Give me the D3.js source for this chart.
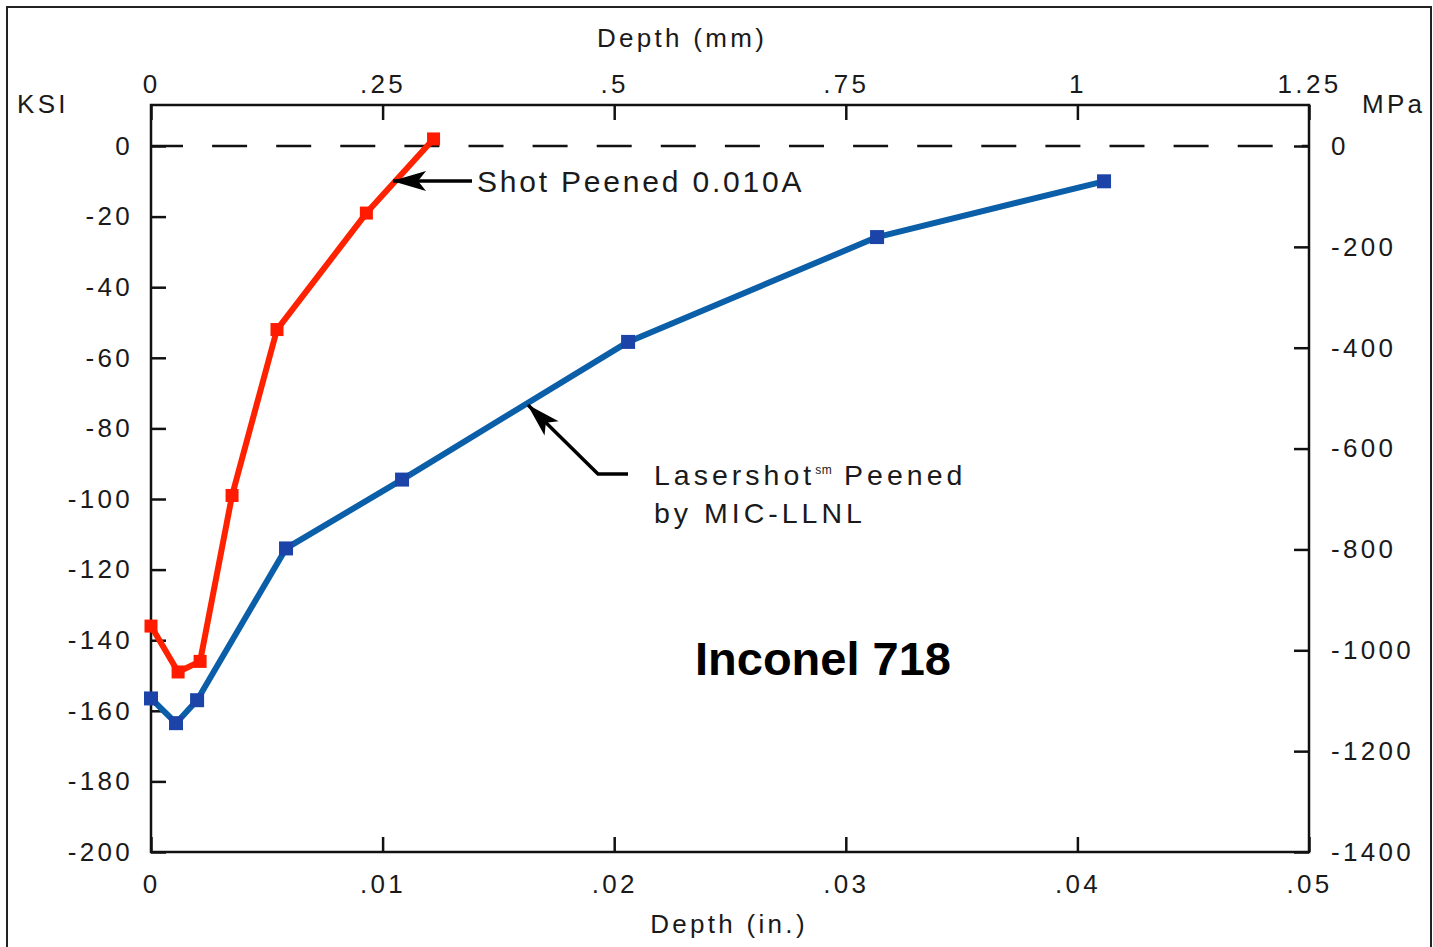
<!DOCTYPE html>
<html>
<head>
<meta charset="utf-8">
<script src="https://cdn.jsdelivr.net/npm/d3@7"></script>
<style>
  body { margin: 0; background: #fff; }
  svg text { font-family: "Liberation Sans", Arial, Helvetica, sans-serif; fill: #1a1a1a; }
  .lbl { font-size: 26px; letter-spacing: 3.3px; }
</style>
</head>
<body>
<div id="chart"></div>
<script>
// Data: depth in inches, residual stress in KSI
var shotDepth = [0, 0.00117, 0.00212, 0.0035, 0.00544, 0.0093, 0.0122];
var shotKsi   = [-136, -149, -146, -99, -52, -19, 2];
var laserDepth = [0, 0.00108, 0.00199, 0.00583, 0.01084, 0.0206, 0.03135, 0.04115];
var laserKsi   = [-156.5, -163.5, -157, -114, -94.5, -55.5, -25.8, -10];

// Tick values
var ksiTicks = [0, -20, -40, -60, -80, -100, -120, -140, -160, -180, -200];
var mpaTicks = [0, -200, -400, -600, -800, -1000, -1200, -1400];
var inTicks = [0, 0.01, 0.02, 0.03, 0.04, 0.05];
var mmTicks = [0, 0.25, 0.5, 0.75, 1, 1.25];

// Annotation arrow tips (in, ksi)
var shotTip = [0.01045, -9.9];
var laserTip = [0.01628, -73.4];

var W = 1433, H = 947;
var PLOT = { left: 151, right: 1309, top: 105, bottom: 852 };
var TICK = 15;

var svg = d3.select("#chart").append("svg")
  .attr("width", W).attr("height", H);

var x = d3.scaleLinear().domain([0, 0.05]).range([PLOT.left, PLOT.right]);
var xmm = d3.scaleLinear().domain([0, 1.25]).range([PLOT.left, PLOT.right]);
var y = d3.scaleLinear().domain([-200, 0]).range([PLOT.bottom, 146]);
var ympa = d3.scaleLinear().domain([-1400, 0]).range([PLOT.bottom, 146]);

function fmt(d) { return d === 0 ? "0" : String(d).replace(/^(-?)0\./, "$1."); }

// outer frame
svg.append("rect")
  .attr("x", 7).attr("y", 7).attr("width", 1424).attr("height", 980)
  .attr("fill", "none").attr("stroke", "#222").attr("stroke-width", 2);

svg.append("defs").append("marker")
  .attr("id", "head")
  .attr("markerUnits", "userSpaceOnUse")
  .attr("viewBox", "-36 -12 38 24")
  .attr("refX", 0).attr("refY", 0)
  .attr("markerWidth", 38).attr("markerHeight", 24)
  .attr("orient", "auto")
  .append("path")
  .attr("d", "M1,0 L-33,-10 L-25,0 L-33,10 Z")
  .attr("fill", "#000");

// axes
function styleAxis(g) {
  g.select(".domain").remove();
  g.selectAll(".tick line").attr("stroke", "#111").attr("stroke-width", 2.5);
  g.selectAll(".tick text").attr("class", "lbl").attr("fill", "#1a1a1a")
    .attr("font-family", null).attr("font-size", null);
}

svg.append("g").attr("transform", "translate(" + PLOT.left + ",0)")
  .call(d3.axisLeft(y).tickValues(ksiTicks).tickFormat(fmt).tickSizeInner(-TICK).tickSizeOuter(0).tickPadding(18))
  .call(styleAxis);

svg.append("g").attr("transform", "translate(" + PLOT.right + ",0)")
  .call(d3.axisRight(ympa).tickValues(mpaTicks).tickFormat(fmt).tickSizeInner(-TICK).tickSizeOuter(0).tickPadding(22))
  .call(styleAxis);

svg.append("g").attr("transform", "translate(0," + PLOT.top + ")")
  .call(d3.axisTop(xmm).tickValues(mmTicks).tickFormat(fmt).tickSizeInner(-TICK).tickSizeOuter(0).tickPadding(12))
  .call(styleAxis);

svg.append("g").attr("transform", "translate(0," + PLOT.bottom + ")")
  .call(d3.axisBottom(x).tickValues(inTicks).tickFormat(fmt).tickSizeInner(-TICK).tickSizeOuter(0).tickPadding(23))
  .call(styleAxis);

// plot box
svg.append("rect")
  .attr("x", PLOT.left).attr("y", PLOT.top)
  .attr("width", PLOT.right - PLOT.left).attr("height", PLOT.bottom - PLOT.top)
  .attr("fill", "none").attr("stroke", "#111").attr("stroke-width", 2.5);

// zero line
svg.append("line")
  .attr("x1", PLOT.left).attr("x2", PLOT.right)
  .attr("y1", y(0)).attr("y2", y(0))
  .attr("stroke", "#111").attr("stroke-width", 2.5)
  .attr("stroke-dasharray", "35,29.1").attr("stroke-dashoffset", 3);

// axis titles
svg.append("text").attr("class", "lbl").attr("x", 682).attr("y", 47)
  .attr("text-anchor", "middle").text("Depth (mm)");
svg.append("text").attr("class", "lbl").attr("x", 729).attr("y", 933)
  .attr("text-anchor", "middle").text("Depth (in.)");
svg.append("text").attr("class", "lbl").attr("x", 17).attr("y", 113).text("KSI");
svg.append("text").attr("class", "lbl").attr("x", 1362).attr("y", 113).text("MPa");

// series
var line = d3.line().x(function(d) { return x(d[0]); }).y(function(d) { return y(d[1]); });

function drawSeries(depth, ksi, lineColor, markColor, size) {
  var pts = depth.map(function(d, i) { return [d, ksi[i]]; });
  svg.append("path").datum(pts)
    .attr("d", line)
    .attr("fill", "none").attr("stroke", lineColor).attr("stroke-width", 6)
    .attr("stroke-linejoin", "round");
  svg.append("g").selectAll("rect").data(pts).enter().append("rect")
    .attr("x", function(d) { return x(d[0]) - size / 2; })
    .attr("y", function(d) { return y(d[1]) - size / 2; })
    .attr("width", size).attr("height", size)
    .attr("fill", markColor);
}

drawSeries(shotDepth, shotKsi, "#ff2200", "#ff1a00", 13);
drawSeries(laserDepth, laserKsi, "#0b5ea8", "#1c44a8", 14);

// annotations
svg.append("line")
  .attr("x1", 472).attr("y1", y(shotTip[1]))
  .attr("x2", x(shotTip[0])).attr("y2", y(shotTip[1]))
  .attr("stroke", "#000").attr("stroke-width", 3.5)
  .attr("marker-end", "url(#head)");

svg.append("text").attr("x", 477).attr("y", 192)
  .attr("font-size", 30).attr("letter-spacing", 2.8)
  .text("Shot Peened 0.010A");

svg.append("path")
  .attr("d", "M628,474 L598,474 L" + x(laserTip[0]) + "," + y(laserTip[1]))
  .attr("fill", "none").attr("stroke", "#000").attr("stroke-width", 3.5)
  .attr("marker-end", "url(#head)");

var lt = svg.append("text").attr("x", 654).attr("y", 485)
  .attr("font-size", 28.5).attr("letter-spacing", 4);
lt.append("tspan").text("Lasershot");
lt.append("tspan").attr("font-size", 12).attr("dy", -11).attr("letter-spacing", 0.5).text("sm");
lt.append("tspan").attr("dy", 11).text(" Peened");

svg.append("text").attr("x", 654).attr("y", 523)
  .attr("font-size", 28.5).attr("letter-spacing", 4)
  .text("by MIC-LLNL");

svg.append("text").attr("x", 695).attr("y", 675)
  .attr("font-size", 47).attr("font-weight", "bold")
  .style("fill", "#000")
  .text("Inconel 718");
</script>
</body>
</html>
